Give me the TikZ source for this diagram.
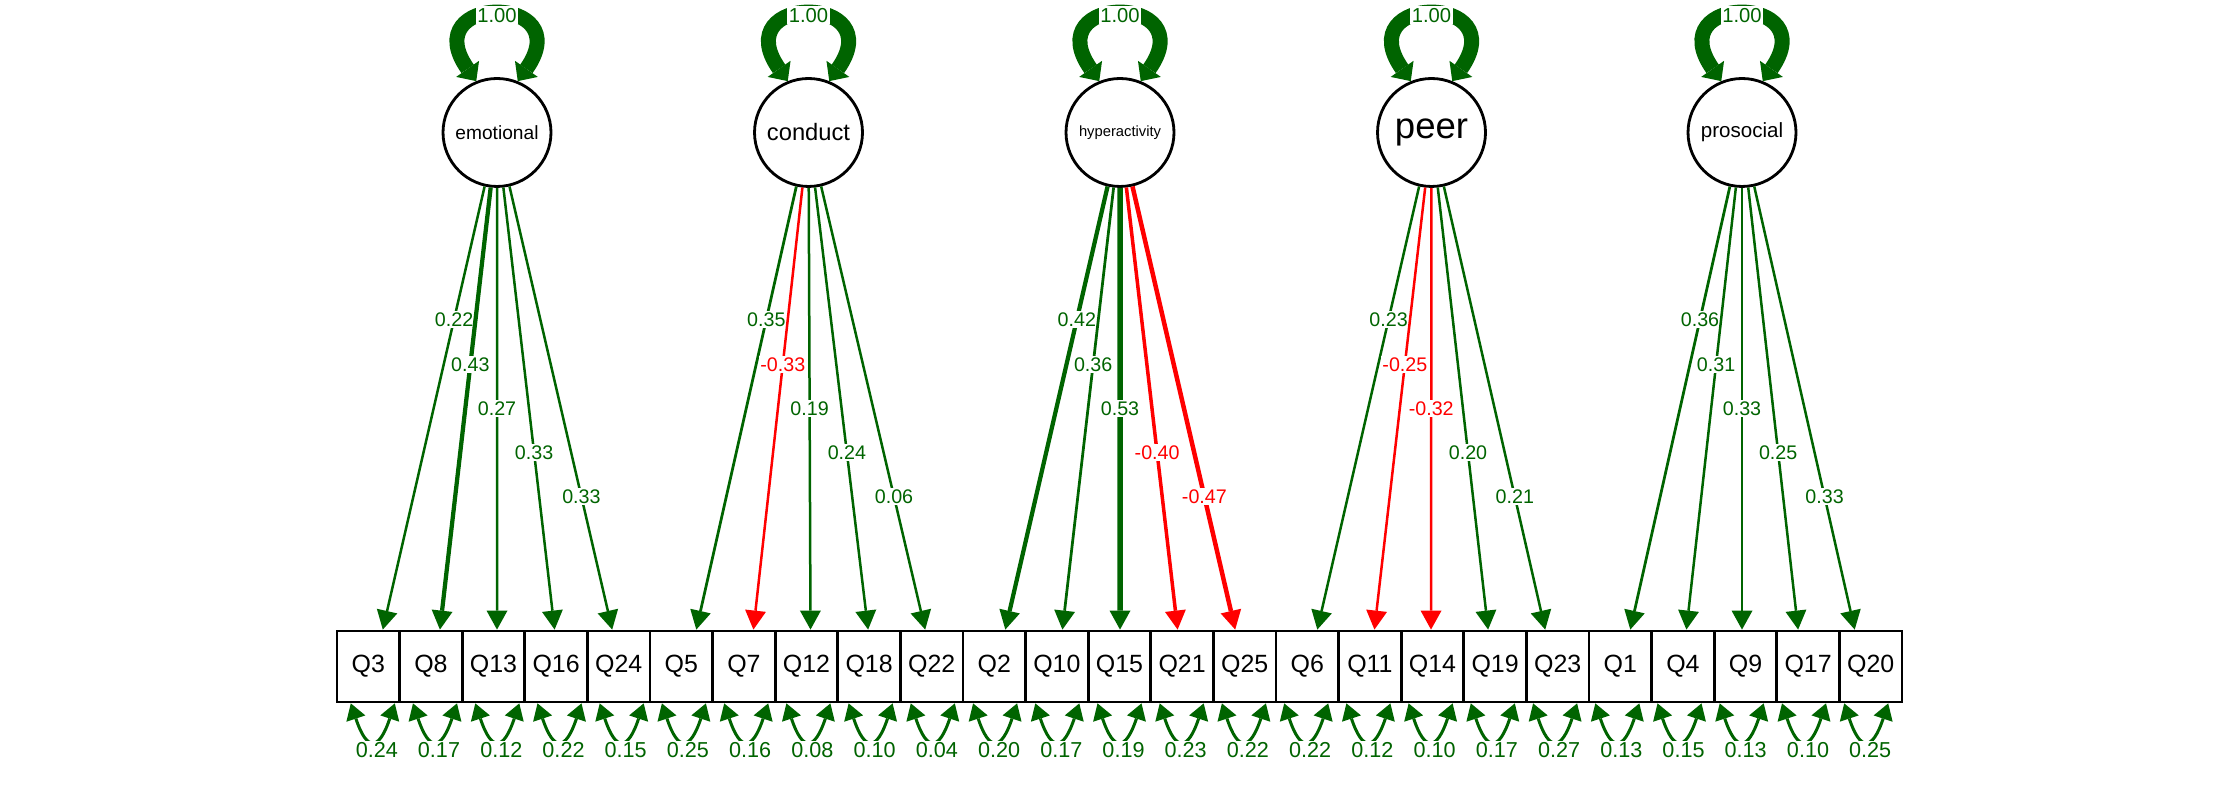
\documentclass[tikz,border=0pt]{standalone}
\usepackage{fontspec}
\setmainfont{Liberation Sans}
\usepackage{tikz}
\usetikzlibrary{arrows.meta,calc}
\definecolor{posgreen}{RGB}{0,100,0}
\definecolor{negred}{RGB}{255,0,0}

\begin{document}
\begin{tikzpicture}[x=0.02cm, y=0.02cm]
	\tikzstyle{Latent}	= [circle, draw, line width=1.6pt, fill=white, minimum size=2.16cm, inner sep=0pt]
	\tikzstyle{Manifest}	= [rectangle, draw, line width=1.6pt, fill=white, minimum width=1.252cm, minimum height=1.42cm, inner sep=0pt, font=\fontsize{14.2}{15}\selectfont]
	\tikzstyle{Load}	= [-{Triangle[length=0.38cm, width=0.42cm, line width=0pt]}, line width=0.05cm]
	\tikzstyle{POS}		= [draw=posgreen]
	\tikzstyle{NEG}		= [draw=negred]
	\tikzstyle{PLbl}	= [fill=white, inner sep=1pt, text=posgreen, font=\fontsize{11.2}{12}\selectfont]
	\tikzstyle{NLbl}	= [PLbl, text=negred]
	\tikzstyle{Var}		= [{Triangle[length=0.3cm, width=0.56cm, line width=0pt]}-{Triangle[length=0.3cm, width=0.56cm, line width=0pt]}, line width=0.3cm, posgreen]
	\tikzstyle{VLbl}	= [midway, fill=white, inner sep=1pt, text=posgreen, font=\fontsize{11.5}{12}\selectfont]
	\tikzstyle{Resid}	= [{Triangle[length=0.32cm, width=0.4cm, line width=0pt]}-{Triangle[length=0.32cm, width=0.4cm, line width=0pt]}, line width=0.06cm, posgreen]
	\tikzstyle{RLbl}	= [midway, below, xshift=0.08cm, fill=white, inner sep=1pt, text=posgreen, font=\fontsize{12.3}{13}\selectfont]

	\useasboundingbox (0,0) rectangle (2240,800);

	% latent factors
	\node (emotional) at (497,667.5) [Latent, font=\fontsize{10.9}{11}\selectfont] {emotional};
	\node (conduct) at (808.5,667.5) [Latent, font=\fontsize{13.5}{14}\selectfont] {conduct};
	\node (hyper) at (1120,667.5) [Latent, font=\fontsize{8.4}{9}\selectfont] {hyperactivity};
	\node (peer) at (1431.5,667.5) [Latent, font=\fontsize{20.8}{21}\selectfont] {peer};
	\node (prosocial) at (1742,667.5) [Latent, font=\fontsize{11.7}{12}\selectfont] {prosocial};

	% items
	\node (Q3) at (368.3,133.5) [Manifest] {Q3};
	\node (Q8) at (430.9,133.5) [Manifest] {Q8};
	\node (Q13) at (493.5,133.5) [Manifest] {Q13};
	\node (Q16) at (556.1,133.5) [Manifest] {Q16};
	\node (Q24) at (618.7,133.5) [Manifest] {Q24};
	\node (Q5) at (681.3,133.5) [Manifest] {Q5};
	\node (Q7) at (743.9,133.5) [Manifest] {Q7};
	\node (Q12) at (806.5,133.5) [Manifest] {Q12};
	\node (Q18) at (869.1,133.5) [Manifest] {Q18};
	\node (Q22) at (931.7,133.5) [Manifest] {Q22};
	\node (Q2) at (994.3,133.5) [Manifest] {Q2};
	\node (Q10) at (1056.9,133.5) [Manifest] {Q10};
	\node (Q15) at (1119.5,133.5) [Manifest] {Q15};
	\node (Q21) at (1182.1,133.5) [Manifest] {Q21};
	\node (Q25) at (1244.7,133.5) [Manifest] {Q25};
	\node (Q6) at (1307.3,133.5) [Manifest] {Q6};
	\node (Q11) at (1369.9,133.5) [Manifest] {Q11};
	\node (Q14) at (1432.5,133.5) [Manifest] {Q14};
	\node (Q19) at (1495.1,133.5) [Manifest] {Q19};
	\node (Q23) at (1557.7,133.5) [Manifest] {Q23};
	\node (Q1) at (1620.3,133.5) [Manifest] {Q1};
	\node (Q4) at (1682.9,133.5) [Manifest] {Q4};
	\node (Q9) at (1745.5,133.5) [Manifest] {Q9};
	\node (Q17) at (1808.1,133.5) [Manifest] {Q17};
	\node (Q20) at (1870.7,133.5) [Manifest] {Q20};

	% loadings
	\draw [Load, POS] (emotional) -- ($(Q3.north)+(14.5,0)$) node[pos=0.3, PLbl] {0.22};
	\draw [Load, POS, line width=0.085cm] (emotional) -- ($(Q8.north)+(9,0)$) node[pos=0.4, PLbl] {0.43};
	\draw [Load, POS] (emotional) -- ($(Q13.north)+(3.5,0)$) node[pos=0.5, PLbl] {0.27};
	\draw [Load, POS] (emotional) -- ($(Q16.north)+(-1.5,0)$) node[pos=0.6, PLbl] {0.33};
	\draw [Load, POS] (emotional) -- ($(Q24.north)+(-6.5,0)$) node[pos=0.7, PLbl] {0.33};

	\draw [Load, POS, line width=0.055cm] (conduct) -- ($(Q5.north)+(15,0)$) node[pos=0.3, PLbl] {0.35};
	\draw [Load, NEG] (conduct) -- ($(Q7.north)+(9.5,0)$) node[pos=0.4, NLbl] {-0.33};
	\draw [Load, POS] (conduct) -- ($(Q12.north)+(4,0)$) node[pos=0.5, PLbl] {0.19};
	\draw [Load, POS] (conduct) -- ($(Q18.north)+(-1,0)$) node[pos=0.6, PLbl] {0.24};
	\draw [Load, POS] (conduct) -- ($(Q22.north)+(-6.5,0)$) node[pos=0.7, PLbl] {0.06};

	\draw [Load, POS, line width=0.085cm] (hyper) -- ($(Q2.north)+(11,0)$) node[pos=0.3, PLbl] {0.42};
	\draw [Load, POS, line width=0.055cm] (hyper) -- ($(Q10.north)+(5.5,0)$) node[pos=0.4, PLbl] {0.36};
	\draw [Load, POS, line width=0.11cm] (hyper) -- ($(Q15.north)+(0.5,0)$) node[pos=0.5, PLbl] {0.53};
	\draw [Load, NEG, line width=0.07cm] (hyper) -- ($(Q21.north)+(-4.5,0)$) node[pos=0.6, NLbl] {-0.40};
	\draw [Load, NEG, line width=0.09cm] (hyper) -- ($(Q25.north)+(-9.5,0)$) node[pos=0.7, NLbl] {-0.47};

	\draw [Load, POS] (peer) -- ($(Q6.north)+(10,0)$) node[pos=0.3, PLbl] {0.23};
	\draw [Load, NEG] (peer) -- ($(Q11.north)+(4.5,0)$) node[pos=0.4, NLbl] {-0.25};
	\draw [Load, NEG] (peer) -- ($(Q14.north)+(-1.5,0)$) node[pos=0.5, NLbl] {-0.32};
	\draw [Load, POS] (peer) -- ($(Q19.north)+(-7,0)$) node[pos=0.6, PLbl] {0.20};
	\draw [Load, POS] (peer) -- ($(Q23.north)+(-12.5,0)$) node[pos=0.7, PLbl] {0.21};

	\draw [Load, POS, line width=0.055cm] (prosocial) -- ($(Q1.north)+(10,0)$) node[pos=0.3, PLbl] {0.36};
	\draw [Load, POS] (prosocial) -- ($(Q4.north)+(3.5,0)$) node[pos=0.4, PLbl] {0.31};
	\draw [Load, POS] (prosocial) -- ($(Q9.north)+(-3.5,0)$) node[pos=0.5, PLbl] {0.33};
	\draw [Load, POS] (prosocial) -- ($(Q17.north)+(-10,0)$) node[pos=0.6, PLbl] {0.25};
	\draw [Load, POS] (prosocial) -- ($(Q20.north)+(-16,0)$) node[pos=0.7, PLbl] {0.33};

	% factor variances
	\draw [Var] (emotional.112) .. controls +(-62,88) and +(62,88) .. (emotional.68) node[VLbl] {1.00};
	\draw [Var] (conduct.112) .. controls +(-62,88) and +(62,88) .. (conduct.68) node[VLbl] {1.00};
	\draw [Var] (hyper.112) .. controls +(-62,88) and +(62,88) .. (hyper.68) node[VLbl] {1.00};
	\draw [Var] (peer.112) .. controls +(-62,88) and +(62,88) .. (peer.68) node[VLbl] {1.00};
	\draw [Var] (prosocial.112) .. controls +(-62,88) and +(62,88) .. (prosocial.68) node[VLbl] {1.00};

	% residual variances
	\draw [Resid] ($(Q3.south)+(-17.5,0)$) .. controls +(16,-48) and +(-16,-48) .. ($(Q3.south)+(26.5,0)$) node[RLbl] {0.24};
	\draw [Resid] ($(Q8.south)+(-17.9,0)$) .. controls +(16,-48) and +(-16,-48) .. ($(Q8.south)+(26.1,0)$) node[RLbl] {0.17};
	\draw [Resid] ($(Q13.south)+(-18.2,0)$) .. controls +(16,-48) and +(-16,-48) .. ($(Q13.south)+(25.8,0)$) node[RLbl] {0.12};
	\draw [Resid] ($(Q16.south)+(-18.6,0)$) .. controls +(16,-48) and +(-16,-48) .. ($(Q16.south)+(25.4,0)$) node[RLbl] {0.22};
	\draw [Resid] ($(Q24.south)+(-19,0)$) .. controls +(16,-48) and +(-16,-48) .. ($(Q24.south)+(25,0)$) node[RLbl] {0.15};
	\draw [Resid] ($(Q5.south)+(-19.4,0)$) .. controls +(16,-48) and +(-16,-48) .. ($(Q5.south)+(24.6,0)$) node[RLbl] {0.25};
	\draw [Resid] ($(Q7.south)+(-19.7,0)$) .. controls +(16,-48) and +(-16,-48) .. ($(Q7.south)+(24.3,0)$) node[RLbl] {0.16};
	\draw [Resid] ($(Q12.south)+(-20.1,0)$) .. controls +(16,-48) and +(-16,-48) .. ($(Q12.south)+(23.9,0)$) node[RLbl] {0.08};
	\draw [Resid] ($(Q18.south)+(-20.5,0)$) .. controls +(16,-48) and +(-16,-48) .. ($(Q18.south)+(23.5,0)$) node[RLbl] {0.10};
	\draw [Resid] ($(Q22.south)+(-20.9,0)$) .. controls +(16,-48) and +(-16,-48) .. ($(Q22.south)+(23.1,0)$) node[RLbl] {0.04};
	\draw [Resid] ($(Q2.south)+(-21.2,0)$) .. controls +(16,-48) and +(-16,-48) .. ($(Q2.south)+(22.8,0)$) node[RLbl] {0.20};
	\draw [Resid] ($(Q10.south)+(-21.6,0)$) .. controls +(16,-48) and +(-16,-48) .. ($(Q10.south)+(22.4,0)$) node[RLbl] {0.17};
	\draw [Resid] ($(Q15.south)+(-22,0)$) .. controls +(16,-48) and +(-16,-48) .. ($(Q15.south)+(22,0)$) node[RLbl] {0.19};
	\draw [Resid] ($(Q21.south)+(-22.4,0)$) .. controls +(16,-48) and +(-16,-48) .. ($(Q21.south)+(21.6,0)$) node[RLbl] {0.23};
	\draw [Resid] ($(Q25.south)+(-22.8,0)$) .. controls +(16,-48) and +(-16,-48) .. ($(Q25.south)+(21.2,0)$) node[RLbl] {0.22};
	\draw [Resid] ($(Q6.south)+(-23.1,0)$) .. controls +(16,-48) and +(-16,-48) .. ($(Q6.south)+(20.9,0)$) node[RLbl] {0.22};
	\draw [Resid] ($(Q11.south)+(-23.5,0)$) .. controls +(16,-48) and +(-16,-48) .. ($(Q11.south)+(20.5,0)$) node[RLbl] {0.12};
	\draw [Resid] ($(Q14.south)+(-23.9,0)$) .. controls +(16,-48) and +(-16,-48) .. ($(Q14.south)+(20.1,0)$) node[RLbl] {0.10};
	\draw [Resid] ($(Q19.south)+(-24.3,0)$) .. controls +(16,-48) and +(-16,-48) .. ($(Q19.south)+(19.7,0)$) node[RLbl] {0.17};
	\draw [Resid] ($(Q23.south)+(-24.6,0)$) .. controls +(16,-48) and +(-16,-48) .. ($(Q23.south)+(19.4,0)$) node[RLbl] {0.27};
	\draw [Resid] ($(Q1.south)+(-25,0)$) .. controls +(16,-48) and +(-16,-48) .. ($(Q1.south)+(19,0)$) node[RLbl] {0.13};
	\draw [Resid] ($(Q4.south)+(-25.4,0)$) .. controls +(16,-48) and +(-16,-48) .. ($(Q4.south)+(18.6,0)$) node[RLbl] {0.15};
	\draw [Resid] ($(Q9.south)+(-25.8,0)$) .. controls +(16,-48) and +(-16,-48) .. ($(Q9.south)+(18.2,0)$) node[RLbl] {0.13};
	\draw [Resid] ($(Q17.south)+(-26.1,0)$) .. controls +(16,-48) and +(-16,-48) .. ($(Q17.south)+(17.9,0)$) node[RLbl] {0.10};
	\draw [Resid] ($(Q20.south)+(-26.5,0)$) .. controls +(16,-48) and +(-16,-48) .. ($(Q20.south)+(17.5,0)$) node[RLbl] {0.25};
\end{tikzpicture}
\end{document}
